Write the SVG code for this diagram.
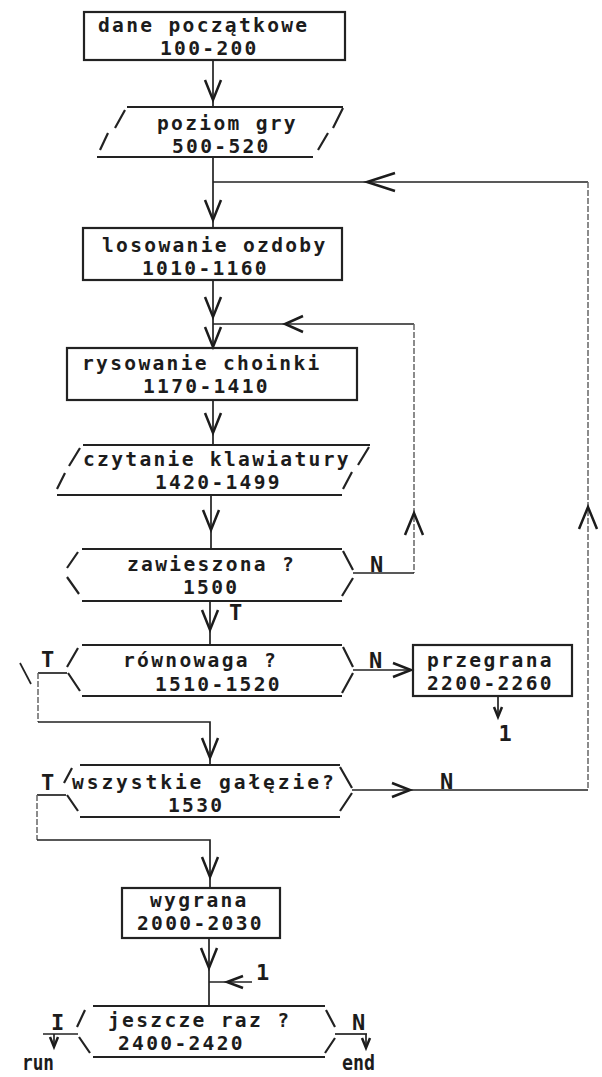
<svg xmlns="http://www.w3.org/2000/svg" xmlns:xlink="http://www.w3.org/1999/xlink" width="602" height="1077" viewBox="0 0 602 1077">
<style>
.t { font-family: "DejaVu Sans Mono", "Liberation Mono", monospace; font-size: 19.6px; letter-spacing: 2.3px; font-weight: bold; fill: #1c1c1c; }
.lb { font-family: "DejaVu Sans Mono", "Liberation Mono", monospace; font-size: 22px; font-weight: bold; fill: #1c1c1c; }
.s { fill: none; stroke: #222; stroke-width: 2.2; }
.ln { fill: none; stroke: #222; stroke-width: 1.7; }
.dl { fill: none; stroke: #666; stroke-width: 1.5; stroke-dasharray: 6 2; }
.ch { fill: none; stroke: #1c1c1c; stroke-width: 2.5; stroke-linejoin: miter; }
</style>
<defs>
<path id="cd" d="M-8,-20 L0,0 L8,-20"/>
<path id="cu" d="M-9,22 L0,0 L9,22"/>
<path id="cl" d="M18,-8 L0,0 L18,8"/>
<path id="clb" d="M28,-9 L0,0 L28,9"/>
<path id="cr" d="M-18,-7 L0,0 L-18,7"/>
<path id="cs" d="M-4,-10 L0,0 L4,-10"/>
<path id="cls" d="M16,-6 L0,0 L16,6"/>
</defs>

<g id="connectors">
<path class="ln" d="M213,60 V107"/>
<use class="ch" href="#cd" x="213" y="100"/>
<path class="ln" d="M213,157 V228"/>
<use class="ch" href="#cd" x="213" y="220"/>
<path class="ln" d="M213,182 H588"/>
<path class="dl" d="M588,182 V790"/>
<use class="ch" href="#clb" x="367" y="182"/>
<use class="ch" href="#cu" x="588" y="507"/>
<path class="ln" d="M213,280 V348"/>
<use class="ch" href="#cd" x="213" y="317"/>
<use class="ch" href="#cd" x="213" y="347"/>
<path class="ln" d="M213,324 H414"/>
<path class="dl" d="M414,324 V573"/>
<use class="ch" href="#cl" x="285" y="324"/>
<use class="ch" href="#cu" x="414" y="513"/>
<path class="ln" d="M213,400 V445"/>
<use class="ch" href="#cd" x="213" y="433"/>
<path class="ln" d="M211,495 V549"/>
<use class="ch" href="#cd" x="211" y="530"/>
<path class="ln" d="M353,573 H414"/>
<path class="ln" d="M210,601 V645"/>
<use class="ch" href="#cd" x="210" y="630"/>
<path class="ln" d="M353,670 H413"/>
<use class="ch" href="#cr" x="411" y="670"/>
<path class="ln" d="M498,696 V717"/>
<use class="ch" href="#cs" x="498" y="717"/>
<path class="ln" d="M67,673 H38"/>
<path class="dl" d="M38,673 V722"/>
<path class="ln" d="M38,722 H210 V765"/>
<use class="ch" href="#cd" x="210" y="758"/>
<path class="ln" d="M20,663 L31,684"/>
<path class="ln" d="M66,795 H37"/>
<path class="dl" d="M37,795 V840"/>
<path class="ln" d="M37,840 H210 V888"/>
<use class="ch" href="#cd" x="210" y="877"/>
<path class="ln" d="M352,790 H588"/>
<use class="ch" href="#cr" x="410" y="790"/>
<path class="ln" d="M209,938 V1006"/>
<use class="ch" href="#cd" x="209" y="968"/>
<path class="ln" d="M209,982 H252"/>
<use class="ch" href="#cls" x="227" y="982"/>
<path class="ln" d="M78,1034 H43"/>
<path class="ln" d="M54,1034 V1047"/>
<use class="ch" href="#cs" x="54" y="1047"/>
<path class="ln" d="M335,1034 H367"/>
<path class="ln" d="M366,1034 V1048"/>
<use class="ch" href="#cs" x="366" y="1048"/>
<text class="lb" x="370" y="572">N</text>
<text class="lb" x="229" y="620">T</text>
<text class="lb" x="369" y="668">N</text>
<text class="lb" x="41" y="667">T</text>
<text class="lb" x="505" y="741" text-anchor="middle">1</text>
<text class="lb" x="41" y="790">T</text>
<text class="lb" x="440" y="789">N</text>
<text class="lb" x="256" y="980">1</text>
<text class="lb" x="51" y="1030">I</text>
<text class="lb" x="352" y="1030">N</text>
<text class="lb" x="22" y="1070" textLength="32" lengthAdjust="spacingAndGlyphs">run</text>
<text class="lb" x="342" y="1070" textLength="33" lengthAdjust="spacingAndGlyphs">end</text>
</g>

<g id="n1">
<rect class="s" x="84" y="12" width="261" height="48"/>
<text class="t"><tspan x="98" y="32">dane początkowe</tspan><tspan x="160" y="55">100-200</tspan></text>
</g>

<g id="n2">
<path class="s" d="M127,107 H343 M97,157 H313 M125,110 L115,128 M108,133 L100,150 M343,108 L333,128 M328,133 L318,150"/>
<text class="t"><tspan x="157" y="130">poziom gry</tspan><tspan x="172" y="153">500-520</tspan></text>
</g>

<g id="n3">
<rect class="s" x="83" y="228" width="259" height="52"/>
<text class="t"><tspan x="102" y="252">losowanie ozdoby</tspan><tspan x="142" y="275">1010-1160</tspan></text>
</g>

<g id="n4">
<rect class="s" x="67" y="348" width="290" height="52"/>
<text class="t"><tspan x="82" y="370">rysowanie choinki</tspan><tspan x="143" y="393">1170-1410</tspan></text>
</g>

<g id="n5">
<path class="s" d="M83,445 H370 M57,495 H342 M80,448 L69,466 M65,473 L57,489 M369,447 L358,465 M352,472 L343,489"/>
<text class="t"><tspan x="83" y="466">czytanie klawiatury</tspan><tspan x="155" y="489">1420-1499</tspan></text>
</g>

<g id="n6">
<path class="s" d="M82,549 H342 M82,601 H342 M78,552 L67,568 M67,577 L79,594 M343,551 L353,570 M353,578 L342,596"/>
<text class="t"><tspan x="127" y="571">zawieszona ?</tspan><tspan x="183" y="594">1500</tspan></text>
</g>

<g id="n7">
<path class="s" d="M82,645 H342 M82,696 H342 M78,648 L67,667 M68,673 L80,691 M343,647 L353,667 M353,673 L342,693"/>
<text class="t"><tspan x="123" y="667">równowaga ?</tspan><tspan x="155" y="691">1510-1520</tspan></text>
</g>

<g id="n8">
<rect class="s" x="413" y="645" width="159" height="51"/>
<text class="t"><tspan x="427" y="667">przegrana</tspan><tspan x="427" y="690">2200-2260</tspan></text>
</g>

<g id="n9">
<path class="s" d="M80,765 H340 M80,817 H340 M72,768 L64,783 M67,795 L78,811 M340,767 L352,788 M352,793 L340,811"/>
<text class="t"><tspan x="72" y="789" textLength="264" lengthAdjust="spacing">wszystkie gałęzie?</tspan><tspan x="168" y="812">1530</tspan></text>
</g>

<g id="n10">
<rect class="s" x="122" y="888" width="158" height="50"/>
<text class="t"><tspan x="150" y="907">wygrana</tspan><tspan x="137" y="930">2000-2030</tspan></text>
</g>

<g id="n11">
<path class="s" d="M93,1006 H325 M93,1057 H325 M85,1010 L77,1027 M79,1037 L90,1053 M326,1010 L335,1027 M335,1038 L325,1053"/>
<text class="t"><tspan x="108" y="1027">jeszcze raz ?</tspan><tspan x="118" y="1050">2400-2420</tspan></text>
</g>
</svg>
